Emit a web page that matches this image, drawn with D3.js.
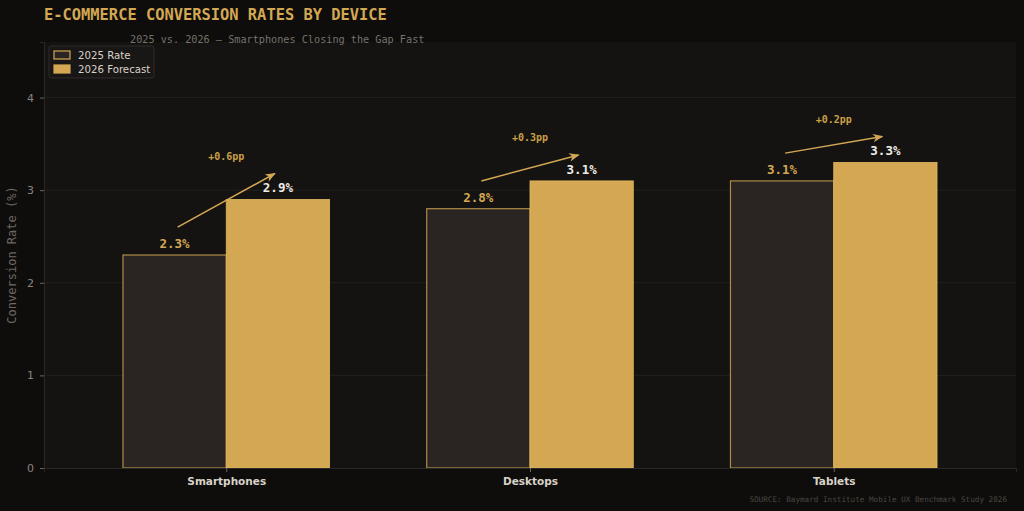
<!DOCTYPE html>
<html>
<head>
<meta charset="utf-8">
<script src="https://cdn.jsdelivr.net/npm/d3@7"></script>
<style>
  body { margin: 0; background: #0e0d0c; }
  svg { display: block; }
</style>
</head>
<body>
<script>
var devices = ["Smartphones", "Desktops", "Tablets"];
var rate2025 = [2.3, 2.8, 3.1];
var rate2026 = [2.9, 3.1, 3.3];
var deltas = ["+0.6pp", "+0.3pp", "+0.2pp"];
var yTicks = [0, 1, 2, 3, 4];

var width = 1024, height = 511;
var margin = {left: 44, right: 8, top: 42, bottom: 43};
var gold = "#d4a853";
var mono = "DejaVu Sans Mono, monospace";
var sans = "DejaVu Sans, sans-serif";

var svg = d3.select("body").append("svg")
	.attr("width", width).attr("height", height);

svg.append("rect").attr("width", width).attr("height", height).attr("fill", "#0e0d0c");

var innerW = width - margin.left - margin.right;
var innerH = height - margin.top - margin.bottom;

var x = d3.scaleLinear().domain([-0.6, 2.6]).range([0, innerW]);
var y = d3.scaleLinear().domain([0, 4.6]).range([innerH, 0]);
var barW = 0.34;

var chartGroup = svg.append("g")
	.attr("transform", "translate(" + margin.left + "," + margin.top + ")");

chartGroup.append("rect")
	.attr("width", innerW).attr("height", innerH)
	.attr("fill", "#141312");

// grid
chartGroup.selectAll(".grid").data(yTicks.slice(1))
	.enter().append("line")
	.attr("x1", 0).attr("x2", innerW)
	.attr("y1", function(d){ return y(d); })
	.attr("y2", function(d){ return y(d); })
	.attr("stroke", "#262422").attr("stroke-width", 0.8);

// bars 2025
chartGroup.selectAll(".b25").data(rate2025)
	.enter().append("rect")
	.attr("x", function(d, i){ return x(i - barW); })
	.attr("y", function(d){ return y(d); })
	.attr("width", x(barW) - x(0))
	.attr("height", function(d){ return y(0) - y(d); })
	.attr("fill", "#2a2522")
	.attr("stroke", gold).attr("stroke-opacity", 0.8).attr("stroke-width", 1.2);

// bars 2026
chartGroup.selectAll(".b26").data(rate2026)
	.enter().append("rect")
	.attr("x", function(d, i){ return x(i); })
	.attr("y", function(d){ return y(d); })
	.attr("width", x(barW) - x(0))
	.attr("height", function(d){ return y(0) - y(d); })
	.attr("fill", gold)
	.attr("stroke", "#e0b860").attr("stroke-width", 0.8);

// value labels
chartGroup.selectAll(".l25").data(rate2025)
	.enter().append("text")
	.attr("x", function(d, i){ return x(i - barW / 2); })
	.attr("y", function(d){ return y(d) - 7; })
	.attr("text-anchor", "middle")
	.attr("font-family", mono).attr("font-size", 12.5).attr("font-weight", "bold")
	.attr("fill", gold)
	.text(function(d){ return d.toFixed(1) + "%"; });

chartGroup.selectAll(".l26").data(rate2026)
	.enter().append("text")
	.attr("x", function(d, i){ return x(i + barW / 2); })
	.attr("y", function(d){ return y(d) - 7; })
	.attr("text-anchor", "middle")
	.attr("font-family", mono).attr("font-size", 12.5).attr("font-weight", "bold")
	.attr("fill", "#f0ece4")
	.text(function(d){ return d.toFixed(1) + "%"; });

// arrows
svg.append("defs").append("marker")
	.attr("id", "arrow").attr("viewBox", "0 0 10 10")
	.attr("refX", 9).attr("refY", 5)
	.attr("markerWidth", 7).attr("markerHeight", 7)
	.attr("orient", "auto")
	.append("path").attr("d", "M0,1 L10,5 L0,9 L3,5 Z").attr("fill", gold);

chartGroup.selectAll(".arrow").data(devices)
	.enter().append("line")
	.attr("x1", function(d, i){ return x(i - 0.16); })
	.attr("y1", function(d, i){ return y(rate2025[i] + 0.3); })
	.attr("x2", function(d, i){ return x(i + 0.16); })
	.attr("y2", function(d, i){ return y(rate2026[i] + 0.28); })
	.attr("stroke", gold).attr("stroke-width", 1.5)
	.attr("marker-end", "url(#arrow)");

chartGroup.selectAll(".delta").data(deltas)
	.enter().append("text")
	.attr("x", function(d, i){ return x(i); })
	.attr("y", function(d, i){ return y(rate2026[i] + 0.47) + 4; })
	.attr("text-anchor", "middle")
	.attr("font-family", mono).attr("font-size", 10).attr("font-weight", "bold")
	.attr("fill", "#c9a046")
	.text(function(d){ return d; });

// axes
var yAxis = d3.axisLeft(y).tickValues(yTicks).tickSize(4).tickPadding(6).tickFormat(d3.format("d"));
var xAxis = d3.axisBottom(x).tickValues([0, 1, 2]).tickSize(4).tickPadding(6)
	.tickFormat(function(d){ return devices[d]; });

var ya = chartGroup.append("g").call(yAxis);
ya.select(".domain").attr("stroke", "#2a2826");
ya.selectAll(".tick line").attr("stroke", "#6b6560");
ya.selectAll(".tick text").attr("fill", "#8a847c").attr("font-family", sans).attr("font-size", 11);

var xa = chartGroup.append("g").attr("transform", "translate(0," + innerH + ")").call(xAxis);
xa.select(".domain").attr("stroke", "#2a2826");
xa.selectAll(".tick line").attr("stroke", "#6b6560");
xa.selectAll(".tick text").attr("fill", "#d8d2c8").attr("font-family", sans)
	.attr("font-size", 10.5).attr("font-weight", "bold");

chartGroup.append("text")
	.attr("transform", "rotate(-90)")
	.attr("x", -innerH / 2).attr("y", -28)
	.attr("text-anchor", "middle")
	.attr("font-family", mono).attr("font-size", 12)
	.attr("fill", "#6e6861")
	.text("Conversion Rate (%)");

// titles
svg.append("text")
	.attr("x", 44).attr("y", 20)
	.attr("font-family", mono).attr("font-size", 15.4).attr("font-weight", "bold")
	.attr("fill", gold)
	.text("E-COMMERCE CONVERSION RATES BY DEVICE");

svg.append("text")
	.attr("x", 130).attr("y", 43)
	.attr("font-family", mono).attr("font-size", 10.2)
	.attr("fill", "#77716a")
	.text("2025 vs. 2026 \u2014 Smartphones Closing the Gap Fast");

svg.append("text")
	.attr("x", 1007).attr("y", 502)
	.attr("text-anchor", "end")
	.attr("font-family", mono).attr("font-size", 7.65)
	.attr("fill", "#4a4640")
	.text("SOURCE: Baymard Institute Mobile UX Benchmark Study 2026");

// legend
var legend = svg.append("g").attr("transform", "translate(49,46)");
legend.append("rect").attr("width", 105).attr("height", 32).attr("rx", 2)
	.attr("fill", "#181716").attr("stroke", "#2e2b28");
var series = [{name: "2025 Rate", fill: "#2a2522"}, {name: "2026 Forecast", fill: gold}];
var item = legend.selectAll(".item").data(series)
	.enter().append("g")
	.attr("transform", function(d, i){ return "translate(5," + (5 + i * 14) + ")"; });
item.append("rect").attr("width", 16).attr("height", 8)
	.attr("fill", function(d){ return d.fill; })
	.attr("stroke", gold).attr("stroke-width", 1.2);
item.append("text").attr("x", 24).attr("y", 8)
	.attr("font-family", sans).attr("font-size", 10.2)
	.attr("fill", "#d8d2c8")
	.text(function(d){ return d.name; });
</script>
</body>
</html>
